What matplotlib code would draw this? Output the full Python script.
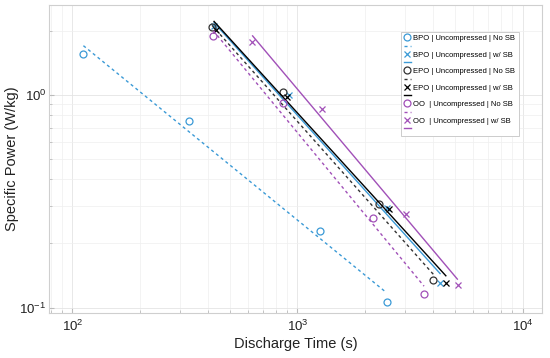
import numpy as np
import matplotlib
matplotlib.use('Agg')
import matplotlib.pyplot as plt

plt.rcParams['font.family'] = ['Liberation Sans', 'DejaVu Sans']
plt.rcParams['mathtext.fontset'] = 'custom'
plt.rcParams['mathtext.rm'] = 'Liberation Sans'

blue = '#3b9ad6'
dark = '#333333'
purple = '#a150b8'

# discharge time (s) and specific power (W/kg)
bpo_nosb_t = [112, 330, 1259, 2506]
bpo_nosb_p = [1.55, 0.75, 0.229, 0.106]
bpo_sb_t = [426, 916, 2506, 4299]
bpo_sb_p = [2.11, 1.00, 0.294, 0.131]
epo_nosb_t = [417, 865, 2301, 4018]
epo_nosb_p = [2.07, 1.025, 0.308, 0.135]
epo_sb_t = [434, 901, 2541, 4560]
epo_sb_p = [2.02, 0.975, 0.291, 0.130]
oo_nosb_t = [423, 859, 2158, 3648]
oo_nosb_p = [1.88, 0.914, 0.263, 0.116]
oo_sb_t = [628, 1279, 3034, 5154]
oo_sb_p = [1.77, 0.857, 0.275, 0.127]

# power-law fit lines (end points)
bpo_nosb_fit_t = [112, 2472]
bpo_nosb_fit_p = [1.70, 0.118]
bpo_sb_fit_t = [426, 4299]
bpo_sb_fit_p = [2.18, 0.1444]
epo_nosb_fit_t = [417, 4018]
epo_nosb_fit_p = [2.12, 0.143]
epo_sb_fit_t = [426, 4560]
epo_sb_fit_p = [2.21, 0.141]
oo_nosb_fit_t = [423, 3648]
oo_nosb_fit_p = [2.0, 0.126]
oo_sb_fit_t = [632, 5129]
oo_sb_fit_p = [1.89, 0.136]

labels = ['BPO | Uncompressed | No SB', 'BPO | Uncompressed | w/ SB',
          'EPO | Uncompressed | No SB', 'EPO | Uncompressed | w/ SB',
          'OO  | Uncompressed | No SB', 'OO  | Uncompressed | w/ SB']

fig = plt.figure(figsize=(5.5, 3.58), dpi=100)
ax = fig.add_axes([0.0896, 0.125, 0.896, 0.862])

dash = (0, (2.2, 2.2))
series = [
    (bpo_nosb_t, bpo_nosb_p, bpo_nosb_fit_t, bpo_nosb_fit_p, blue, 'o', dash),
    (bpo_sb_t, bpo_sb_p, bpo_sb_fit_t, bpo_sb_fit_p, blue, 'x', '-'),
    (epo_nosb_t, epo_nosb_p, epo_nosb_fit_t, epo_nosb_fit_p, dark, 'o', dash),
    (epo_sb_t, epo_sb_p, epo_sb_fit_t, epo_sb_fit_p, 'black', 'x', '-'),
    (oo_nosb_t, oo_nosb_p, oo_nosb_fit_t, oo_nosb_fit_p, purple, 'o', dash),
    (oo_sb_t, oo_sb_p, oo_sb_fit_t, oo_sb_fit_p, purple, 'x', '-'),
]

handles = []
hlabels = []
for (t, p, ft, fp, c, m, ls), lab in zip(series, labels):
    if m == 'o':
        h1, = ax.plot(t, p, linestyle='none', marker='o', markersize=5,
                      markerfacecolor='none', markeredgecolor=c, markeredgewidth=0.9)
    else:
        h1, = ax.plot(t, p, linestyle='none', marker='x', markersize=4.5,
                      color=c, markeredgewidth=0.9)
    h2, = ax.plot(ft, fp, color=c, linestyle=ls, linewidth=1.0)
    handles += [h1, h2]
    hlabels += [lab, '']

ax.set_xscale('log')
ax.set_yscale('log')
ax.set_xlim(79, 12200)
ax.set_ylim(0.094, 2.65)

ax.grid(True, which='major', color='#e4e4e4', linewidth=0.6)
ax.grid(True, which='minor', color='#efefef', linewidth=0.5)
ax.set_axisbelow(True)
for s in ax.spines.values():
    s.set_color('#cfcfcf')
    s.set_linewidth(0.8)
ax.tick_params(which='both', direction='in', color='#bbbbbb', labelsize=9.5,
               labelcolor='#222222', pad=2)
ax.tick_params(which='minor', labelleft=False, labelbottom=False)
ax.tick_params(axis='x', pad=4)
ax.set_xticks([100, 1000, 10000])
ax.set_yticks([0.1, 1])

ax.set_xlabel('Discharge Time (s)', fontsize=10.5, color='#222222', labelpad=2)
ax.set_ylabel('Specific Power (W/kg)', fontsize=10.5, color='#222222', labelpad=0)

leg = ax.legend(handles, hlabels, loc='upper right', bbox_to_anchor=(0.96, 0.925),
                fontsize=5.5, handlelength=1.0, handletextpad=0.3, labelspacing=0.12,
                borderpad=0.4, frameon=True, fancybox=False, framealpha=1)
leg.get_frame().set_edgecolor('#cccccc')
leg.get_frame().set_linewidth(0.7)

fig.savefig('out.png', dpi=100)
